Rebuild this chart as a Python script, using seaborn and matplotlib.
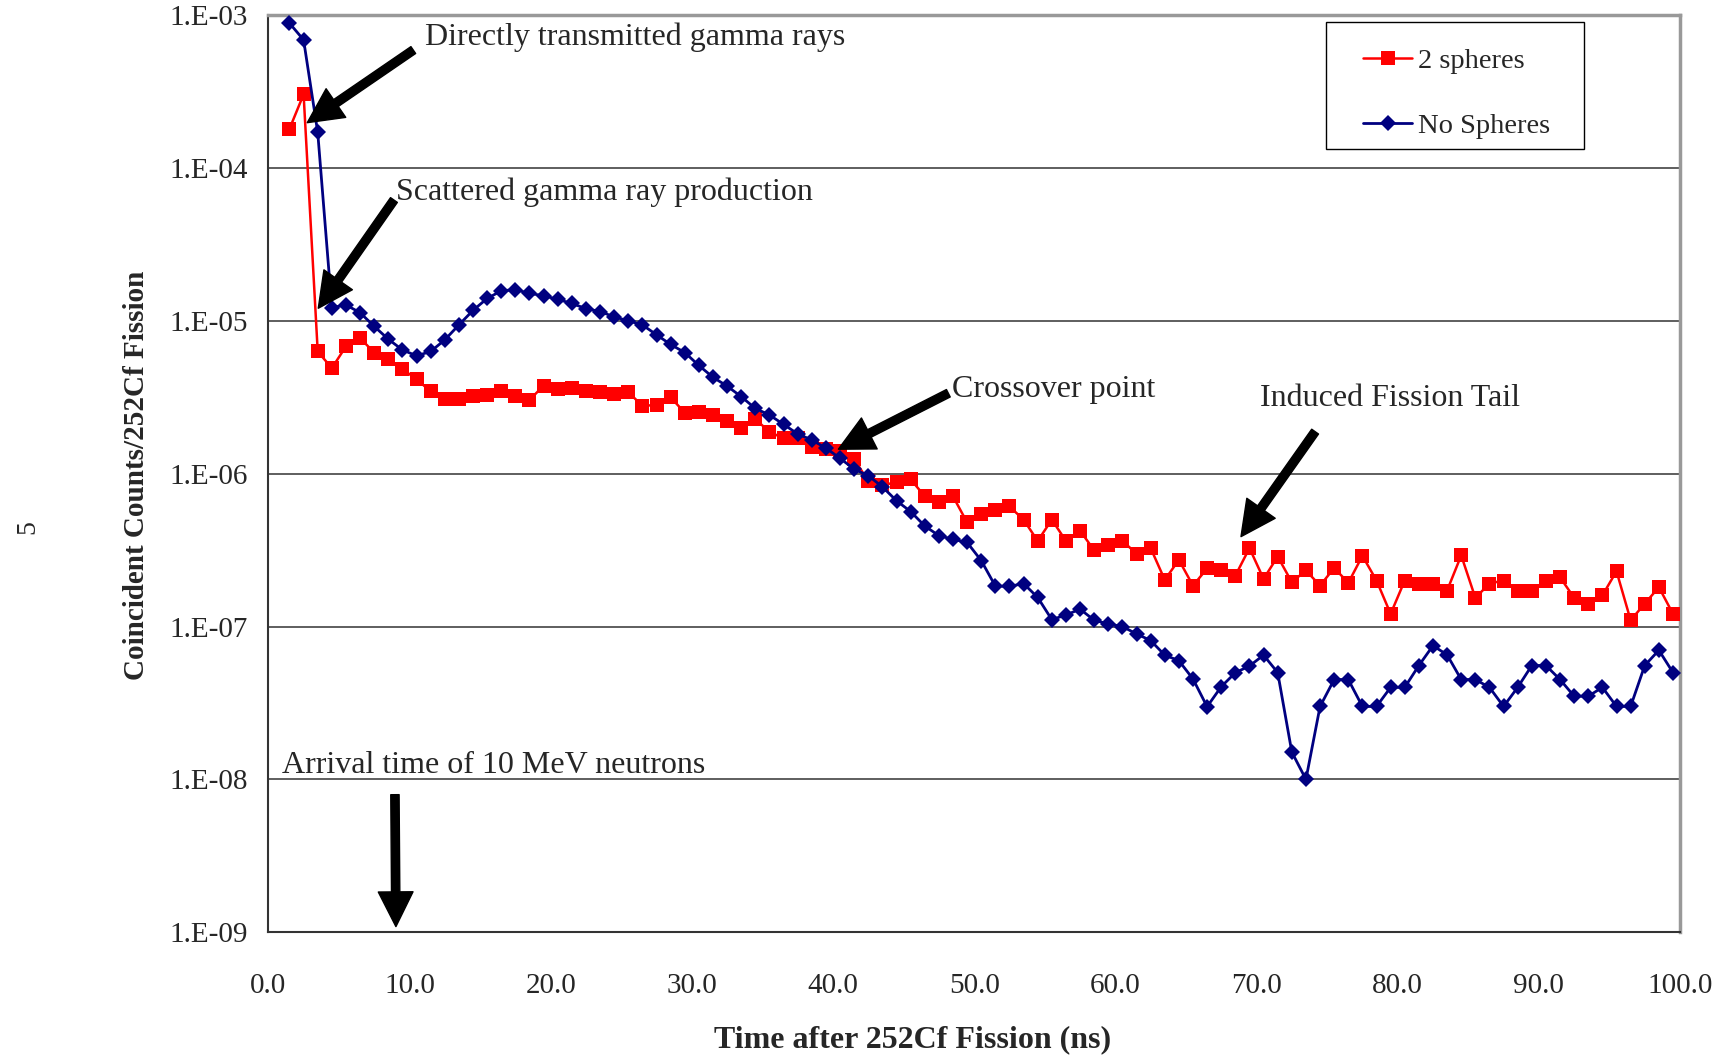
import numpy as np
import pandas as pd
import matplotlib
matplotlib.use("Agg")
import matplotlib.pyplot as plt
from matplotlib.patches import Rectangle
import seaborn as sns

# time bins (ns) and coincident counts per 252Cf fission
time_ns = np.arange(1.5, 100.0, 1.0)

two_spheres = [
    1.8e-4, 3.03e-4, 6.3e-6, 4.9e-6, 6.8e-6, 7.7e-6, 6.2e-6, 5.6e-6, 4.83e-6, 4.15e-6,
    3.45e-6, 3.08e-6, 3.1e-6, 3.22e-6, 3.25e-6, 3.45e-6, 3.2e-6, 3.03e-6, 3.77e-6, 3.57e-6,
    3.65e-6, 3.45e-6, 3.4e-6, 3.3e-6, 3.42e-6, 2.77e-6, 2.82e-6, 3.16e-6, 2.5e-6, 2.55e-6,
    2.42e-6, 2.2e-6, 2.0e-6, 2.27e-6, 1.88e-6, 1.7e-6, 1.7e-6, 1.5e-6, 1.45e-6, 1.41e-6,
    1.25e-6, 8.9e-7, 8.4e-7, 8.8e-7, 9.2e-7, 7.1e-7, 6.56e-7, 7.1e-7, 4.8e-7, 5.45e-7,
    5.8e-7, 6.1e-7, 5.0e-7, 3.63e-7, 5.0e-7, 3.63e-7, 4.24e-7, 3.15e-7, 3.4e-7, 3.63e-7,
    3.0e-7, 3.26e-7, 2.02e-7, 2.73e-7, 1.85e-7, 2.4e-7, 2.33e-7, 2.15e-7, 3.26e-7, 2.05e-7,
    2.87e-7, 1.95e-7, 2.33e-7, 1.85e-7, 2.42e-7, 1.93e-7, 2.9e-7, 2.0e-7, 1.21e-7, 2.0e-7,
    1.91e-7, 1.91e-7, 1.72e-7, 2.92e-7, 1.54e-7, 1.91e-7, 2.0e-7, 1.72e-7, 1.72e-7, 2.0e-7,
    2.1e-7, 1.54e-7, 1.41e-7, 1.6e-7, 2.3e-7, 1.1e-7, 1.41e-7, 1.81e-7, 1.21e-7,
]

no_spheres = [
    8.85e-4, 6.88e-4, 1.71e-4, 1.22e-5, 1.27e-5, 1.13e-5, 9.2e-6, 7.58e-6, 6.45e-6, 5.9e-6,
    6.3e-6, 7.5e-6, 9.4e-6, 1.17e-5, 1.4e-5, 1.57e-5, 1.6e-5, 1.51e-5, 1.46e-5, 1.38e-5,
    1.3e-5, 1.2e-5, 1.15e-5, 1.06e-5, 1.0e-5, 9.4e-6, 8.1e-6, 7.0e-6, 6.2e-6, 5.1e-6,
    4.27e-6, 3.74e-6, 3.19e-6, 2.67e-6, 2.42e-6, 2.1e-6, 1.82e-6, 1.66e-6, 1.47e-6, 1.26e-6,
    1.07e-6, 9.7e-7, 8.2e-7, 6.65e-7, 5.65e-7, 4.55e-7, 3.93e-7, 3.72e-7, 3.55e-7, 2.7e-7,
    1.84e-7, 1.83e-7, 1.91e-7, 1.55e-7, 1.11e-7, 1.19e-7, 1.3e-7, 1.1e-7, 1.04e-7, 1.0e-7,
    8.95e-8, 8.1e-8, 6.5e-8, 5.98e-8, 4.54e-8, 2.99e-8, 4.04e-8, 4.99e-8, 5.52e-8, 6.5e-8,
    5.0e-8, 1.51e-8, 1.0e-8, 3.0e-8, 4.5e-8, 4.5e-8, 3.0e-8, 3.0e-8, 4.0e-8, 4.0e-8,
    5.56e-8, 7.5e-8, 6.53e-8, 4.5e-8, 4.5e-8, 4.0e-8, 3.0e-8, 4.0e-8, 5.56e-8, 5.56e-8,
    4.5e-8, 3.5e-8, 3.5e-8, 4.0e-8, 3.0e-8, 3.0e-8, 5.56e-8, 7.0e-8, 5.0e-8,
]

y_ticks = [1e-9, 1e-8, 1e-7, 1e-6, 1e-5, 1e-4, 1e-3]
y_tick_labels = ["1.E-09", "1.E-08", "1.E-07", "1.E-06", "1.E-05", "1.E-04", "1.E-03"]
x_ticks = [0, 10, 20, 30, 40, 50, 60, 70, 80, 90, 100]
x_tick_labels = ["%.1f" % v for v in x_ticks]

# (label, text position, arrow tail, arrow head) -- y positions in log10
notes = [
    ("Directly transmitted gamma rays", (11.09, -3.146), (10.27, -3.229), (2.76, -3.704)),
    ("Scattered gamma ray production", (9.05, -4.156), (8.90, -4.21), (3.54, -4.918)),
    ("Crossover point", (48.41, -5.452), (48.17, -5.474), (40.38, -5.840)),
    ("Induced Fission Tail", (70.25, -5.507), (74.15, -5.725), (68.9, -6.412)),
    ("Arrival time of 10 MeV neutrons", (0.95, -7.912), (8.97, -8.10), (9.04, -8.963)),
]

sns.set_style("white")
plt.rcParams['font.family'] = ['Liberation Serif', 'DejaVu Serif']

df = pd.DataFrame({"t": time_ns, "two": two_spheres, "none": no_spheres})

fig = plt.figure(figsize=(17.21, 10.60), dpi=100)
ax = fig.add_axes([0.1559, 0.1205, 0.9762 - 0.1559, 0.9858 - 0.1205])

sns.lineplot(data=df, x="t", y="two", ax=ax, color="#FF0000", lw=1.8,
             marker="s", markersize=10.5, markeredgewidth=0, label="2 spheres", zorder=4)
sns.lineplot(data=df, x="t", y="none", ax=ax, color="#000080", lw=2.0,
             marker="D", markersize=8, markeredgewidth=0, label="No Spheres", zorder=5)

ax.set_yscale("log")
ax.set_ylim(1e-9, 1e-3)
ax.set_xlim(0, 100)
ax.set_yticks(y_ticks)
ax.set_yticklabels(y_tick_labels)
ax.minorticks_off()
ax.set_xticks(x_ticks)
ax.set_xticklabels(x_tick_labels)
ax.tick_params(axis="y", which="major", direction="out", length=6, width=1.2,
               color="#333333", pad=9, labelsize=21)
ax.tick_params(axis="x", which="major", direction="out", length=6, width=1.2,
               color="#333333", pad=23, labelsize=21)
ax.set_xlabel("")
ax.set_ylabel("")

for yv in y_ticks[1:-1]:
    ax.axhline(yv, color="#333333", lw=1.1, zorder=1)

for side in ["left", "bottom"]:
    ax.spines[side].set_color("#333333")
    ax.spines[side].set_linewidth(1.5)
for side in ["top", "right"]:
    ax.spines[side].set_color("#999999")
    ax.spines[side].set_linewidth(2.5)

for label, txt, tail, head in notes:
    ax.annotate("", xy=(head[0], 10 ** head[1]), xytext=(tail[0], 10 ** tail[1]),
                arrowprops=dict(facecolor="black", edgecolor="black", width=6,
                                headwidth=25, headlength=25, shrink=0),
                zorder=6)
    ax.text(txt[0], 10 ** txt[1], label, fontsize=23, ha="left", va="center", zorder=6)

# legend box drawn separately so its padding matches the original
ax.add_patch(Rectangle((0.7492, 0.8539), 0.932 - 0.7492, 0.9924 - 0.8539,
                       transform=ax.transAxes, facecolor="white", edgecolor="black",
                       lw=1.0, zorder=6.5))
leg = ax.legend(loc="upper left", bbox_to_anchor=(0.7757, 0.964), fontsize=20.5,
                frameon=False, handlelength=1.72, handletextpad=0.2,
                borderpad=0, labelspacing=1.37, borderaxespad=0)
leg.set_zorder(7)

fig.text(913 / 1721, 1 - 1040 / 1060, "Time after 252Cf Fission (ns)", fontsize=23,
         fontweight="bold", ha="center", va="center")
fig.text(137 / 1721, 1 - 475 / 1060, "Coincident Counts/252Cf Fission", fontsize=21,
         fontweight="bold", ha="center", va="center", rotation=90)
fig.text(28 / 1721, 1 - 527 / 1060, "5", fontsize=20, ha="center", va="center", rotation=90)

fig.savefig("out.png", dpi=100)
